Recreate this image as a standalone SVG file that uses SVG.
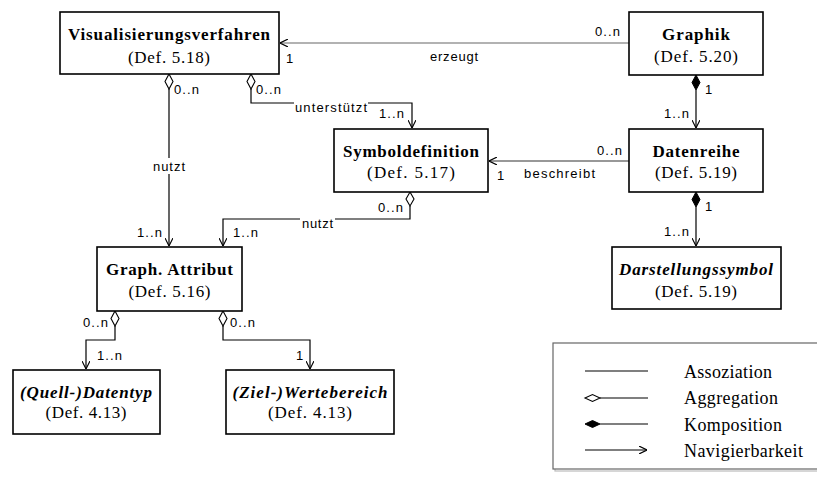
<svg xmlns="http://www.w3.org/2000/svg" width="817" height="480" viewBox="0 0 817 480">
  <defs>
    <style>
      .box { fill: #fff; stroke: #000; stroke-width: 1.6; }
      .title { font-family: "Liberation Serif", "Times New Roman", serif; font-size: 17px; font-weight: bold; text-anchor: middle; fill: #000; }
      .ital { font-style: italic; }
      .def { font-family: "Liberation Serif", "Times New Roman", serif; font-size: 17px; text-anchor: middle; fill: #000; }
      .lbl { font-family: "Liberation Sans", Arial, sans-serif; font-size: 13px; fill: #000; }
      .con { fill: none; stroke: #000; stroke-width: 1.2; }
      .grey { stroke: #666; }
      .dark { stroke: #333; }
      .agg { fill: #fff; stroke: #000; stroke-width: 1.1; }
      .comp { fill: #000; stroke: #000; stroke-width: 1; }
      .bg { fill: #fff; stroke: none; }
      .leg { font-family: "Liberation Serif", "Times New Roman", serif; font-size: 18px; fill: #000; }
    </style>
    <marker id="open" viewBox="0 0 10 10" refX="10" refY="5" markerWidth="8" markerHeight="8" markerUnits="userSpaceOnUse" orient="auto">
      <path d="M0,0 L10,5 L0,10" fill="none" stroke="#000" stroke-width="1.4"/>
    </marker>
  </defs>

  <rect width="817" height="480" fill="#fff"/>

  <!-- connectors -->
  <g id="connectors">
    <!-- Graphik -> Visualisierungsverfahren (erzeugt) -->
    <line class="con grey" x1="629" y1="43" x2="280" y2="43" marker-end="url(#open)"/>
    <!-- Visualisierungsverfahren -> Graph. Attribut (nutzt) -->
    <path class="con" d="M169,89 V246" marker-end="url(#open)"/>
    <polygon class="agg" points="169,74 173,81.5 169,89 165,81.5"/>
    <!-- Visualisierungsverfahren -> Symboldefinition (unterstützt) -->
    <path class="con" d="M251,89 V103 H412 V128" marker-end="url(#open)"/>
    <polygon class="agg" points="251,74 255,81.5 251,89 247,81.5"/>
    <!-- Datenreihe -> Symboldefinition (beschreibt) -->
    <line class="con dark" x1="629" y1="161" x2="489" y2="161" marker-end="url(#open)"/>
    <!-- Symboldefinition -> Graph. Attribut (nutzt) -->
    <path class="con" d="M410,206 V219 H223 V246" marker-end="url(#open)"/>
    <polygon class="agg" points="410,192 414,199 410,206 406,199"/>
    <!-- Graphik -> Datenreihe -->
    <path class="con" d="M696,90 V128" marker-end="url(#open)"/>
    <polygon class="comp" points="696,75 700,82.5 696,90 692,82.5"/>
    <!-- Datenreihe -> Darstellungssymbol -->
    <path class="con" d="M696,207 V246" marker-end="url(#open)"/>
    <polygon class="comp" points="696,192 700,199.5 696,207 692,199.5"/>
    <!-- Graph. Attribut -> (Quell-)Datentyp -->
    <path class="con" d="M115,326 V340 H86 V369" marker-end="url(#open)"/>
    <polygon class="agg" points="115,311 119,318.5 115,326 111,318.5"/>
    <!-- Graph. Attribut -> (Ziel-)Wertebereich -->
    <path class="con" d="M223,326 V340 H310 V369" marker-end="url(#open)"/>
    <polygon class="agg" points="223,311 227,318.5 223,326 219,318.5"/>

    <!-- role names, multiplicities and association names -->
    <text class="lbl" x="286" y="63">1</text>
    <text class="lbl" x="430" y="61" textLength="48">erzeugt</text>
    <text class="lbl" x="595" y="36" textLength="25">0..n</text>
    <text class="lbl" x="174" y="94" textLength="25">0..n</text>
    <text class="lbl" x="256" y="94" textLength="25">0..n</text>
    <rect class="bg" x="294" y="99" width="74" height="14"/>
    <text class="lbl" x="295" y="112" textLength="72">unterstützt</text>
    <text class="lbl" x="379" y="118" textLength="25">1..n</text>
    <text class="lbl" x="705" y="94">1</text>
    <text class="lbl" x="664" y="118" textLength="25">1..n</text>
    <text class="lbl" x="597" y="155" textLength="25">0..n</text>
    <text class="lbl" x="497" y="180">1</text>
    <text class="lbl" x="524" y="178" textLength="71">beschreibt</text>
    <text class="lbl" x="705" y="211">1</text>
    <text class="lbl" x="664" y="236" textLength="25">1..n</text>
    <text class="lbl" x="378" y="212" textLength="25">0..n</text>
    <rect class="bg" x="151" y="158" width="36" height="16"/>
    <text class="lbl" x="153" y="171" textLength="32">nutzt</text>
    <rect class="bg" x="300" y="215" width="35" height="15"/>
    <text class="lbl" x="302" y="228" textLength="31">nutzt</text>
    <text class="lbl" x="137" y="237" textLength="25">1..n</text>
    <text class="lbl" x="233" y="237" textLength="25">1..n</text>
    <text class="lbl" x="83" y="327" textLength="25">0..n</text>
    <text class="lbl" x="230" y="327" textLength="25">0..n</text>
    <text class="lbl" x="97" y="360" textLength="25">1..n</text>
    <text class="lbl" x="296" y="360">1</text>
  </g>

  <!-- nodes -->
  <g id="visualisierungsverfahren">
    <rect class="box" x="60" y="12" width="219" height="62"/>
    <text class="title" x="169" y="40" textLength="202">Visualisierungsverfahren</text>
    <text class="def" x="169" y="63" textLength="82">(Def. 5.18)</text>
  </g>
  <g id="graphik">
    <rect class="box" x="629" y="12" width="134" height="63"/>
    <text class="title" x="696" y="40" textLength="68">Graphik</text>
    <text class="def" x="696" y="62" textLength="84">(Def. 5.20)</text>
  </g>
  <g id="symboldefinition">
    <rect class="box" x="334" y="129" width="154" height="63"/>
    <text class="title" x="411" y="157" textLength="136">Symboldefinition</text>
    <text class="def" x="411" y="178" textLength="88">(Def. 5.17)</text>
  </g>
  <g id="datenreihe">
    <rect class="box" x="629" y="129" width="134" height="63"/>
    <text class="title" x="696" y="157" textLength="87">Datenreihe</text>
    <text class="def" x="696" y="178" textLength="82">(Def. 5.19)</text>
  </g>
  <g id="darstellungssymbol">
    <rect class="box" x="612" y="247" width="169" height="62"/>
    <text class="title ital" x="696" y="275" textLength="154">Darstellungssymbol</text>
    <text class="def" x="696" y="297" textLength="82">(Def. 5.19)</text>
  </g>
  <g id="graph-attribut">
    <rect class="box" x="97" y="247" width="145" height="64"/>
    <text class="title" x="169.5" y="275" textLength="127">Graph. Attribut</text>
    <text class="def" x="169.5" y="297" textLength="82">(Def. 5.16)</text>
  </g>
  <g id="quell-datentyp">
    <rect class="box" x="13" y="370" width="147" height="64"/>
    <text class="title ital" x="86" y="398" textLength="132">(Quell-)Datentyp</text>
    <text class="def" x="86" y="418" textLength="81">(Def. 4.13)</text>
  </g>
  <g id="ziel-wertebereich">
    <rect class="box" x="226" y="370" width="168" height="64"/>
    <text class="title ital" x="310" y="398" textLength="155">(Ziel-)Wertebereich</text>
    <text class="def" x="310" y="418" textLength="84">(Def. 4.13)</text>
  </g>

  <!-- legend -->
  <g id="legend">
    <rect x="555" y="345" width="270" height="126" fill="none" stroke="#bbb" stroke-width="1.2"/>
    <rect x="553" y="343" width="270" height="126" fill="#fff" stroke="#666" stroke-width="1.2"/>
    <line class="con" x1="585" y1="371" x2="648" y2="371"/>
    <line class="con" x1="600" y1="398" x2="648" y2="398"/>
    <polygon class="agg" points="585,398 592.5,394.5 600,398 592.5,401.5"/>
    <line class="con" x1="600" y1="424" x2="648" y2="424"/>
    <polygon class="comp" points="585,424 592.5,420.5 600,424 592.5,427.5"/>
    <line class="con" x1="585" y1="450" x2="647" y2="450" marker-end="url(#open)"/>
    <text class="leg" x="684" y="378" textLength="88">Assoziation</text>
    <text class="leg" x="684" y="404" textLength="94">Aggregation</text>
    <text class="leg" x="684" y="431" textLength="98">Komposition</text>
    <text class="leg" x="684" y="457" textLength="119">Navigierbarkeit</text>
  </g>
</svg>
